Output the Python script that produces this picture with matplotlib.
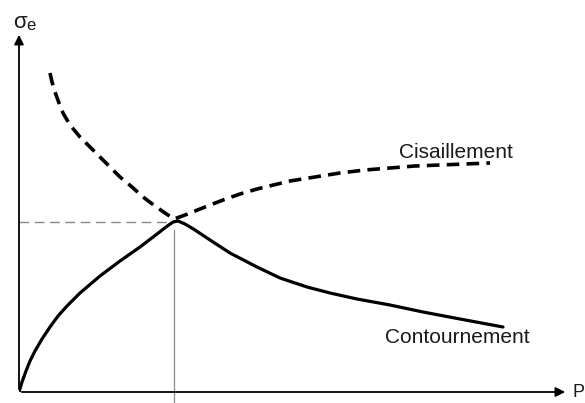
import matplotlib
matplotlib.use("Agg")
import matplotlib.pyplot as plt

plt.rcParams['font.family'] = ['Liberation Sans', 'DejaVu Sans']

# courbes (unités arbitraires, origine au coin des axes)
contour_x = [0, 0.3, 0.7, 1.1, 1.6, 2.3, 3.1, 3.9, 4.8, 6.1, 8.1, 10.1, 12.1, 13.8, 14.7,
             15.4, 15.9, 16.6, 17.6, 19.1, 21.1, 23.8, 26.1, 28.8, 31.1, 33.8, 37.1, 40.4, 44.1, 48.4]
contour_y = [0, 1.0, 2.1, 3.1, 4.1, 5.3, 6.5, 7.6, 8.6, 9.9, 11.6, 13.1, 14.5, 15.8, 16.5,
             17.0, 17.1, 16.8, 16.2, 15.2, 13.9, 12.5, 11.4, 10.5, 9.9, 9.3, 8.7, 8.0, 7.3, 6.5]

cisail_x = [3.1, 3.3, 3.6, 4.0, 4.4, 5.1, 6.1, 7.1, 8.1, 9.1, 10.1, 11.3, 12.4, 13.6, 14.6,
            15.5, 16.6, 18.1, 20.4, 22.1, 23.8, 27.1, 29.6, 32.1, 34.6, 37.1, 39.6, 42.1, 44.6, 47.1]
cisail_y = [31.9, 31.0, 30.0, 28.9, 27.9, 26.7, 25.5, 24.5, 23.5, 22.5, 21.5, 20.5, 19.5, 18.6, 17.9,
            17.3, 17.7, 18.3, 19.2, 19.8, 20.3, 21.1, 21.5, 21.9, 22.2, 22.4, 22.6, 22.7, 22.8, 22.9]

x_crit, y_crit = 15.5, 17.0

fig = plt.figure(figsize=(5.85, 4.03), dpi=100)
ax = fig.add_axes([19 / 585, 11 / 403, 549 / 585, 360 / 403])
ax.set_xlim(0, 54.9)
ax.set_ylim(0, 36.0)
ax.axis('off')

# axes avec flèches
arrow = dict(arrowstyle='-|>', color='black', lw=1.3, mutation_scale=14)
ax.annotate('', xy=(1, 0), xytext=(0, 0), xycoords='axes fraction', arrowprops=arrow)
ax.annotate('', xy=(0, 1), xytext=(0, 0), xycoords='axes fraction', arrowprops=arrow)

# repères du point critique
ax.plot([0, x_crit], [y_crit, y_crit], color='#888888', lw=1, dashes=(7, 4))
ax.plot([x_crit, x_crit], [-2, y_crit - 0.8], color='#888888', lw=0.9, clip_on=False)

ax.plot(contour_x, contour_y, color='black', lw=2.3, solid_capstyle='round', solid_joinstyle='round')
ax.plot(cisail_x, cisail_y, color='black', lw=2.6, dashes=(3.5, 2))

ax.text(38.0, 23.4, 'Cisaillement', fontsize=15, color='#1a1a1a')
ax.text(36.6, 4.9, 'Contournement', fontsize=15, color='#1a1a1a')

fig.text(13 / 585, 1 - 28 / 403, 'σ', fontsize=16, color='#1a1a1a')
fig.text(26 / 585, 1 - 30 / 403, 'e', fontsize=12, color='#1a1a1a')
fig.text(572 / 585, 1 - 397 / 403, 'P', fontsize=13, color='#1a1a1a')

fig.savefig('out.png', dpi=100)
